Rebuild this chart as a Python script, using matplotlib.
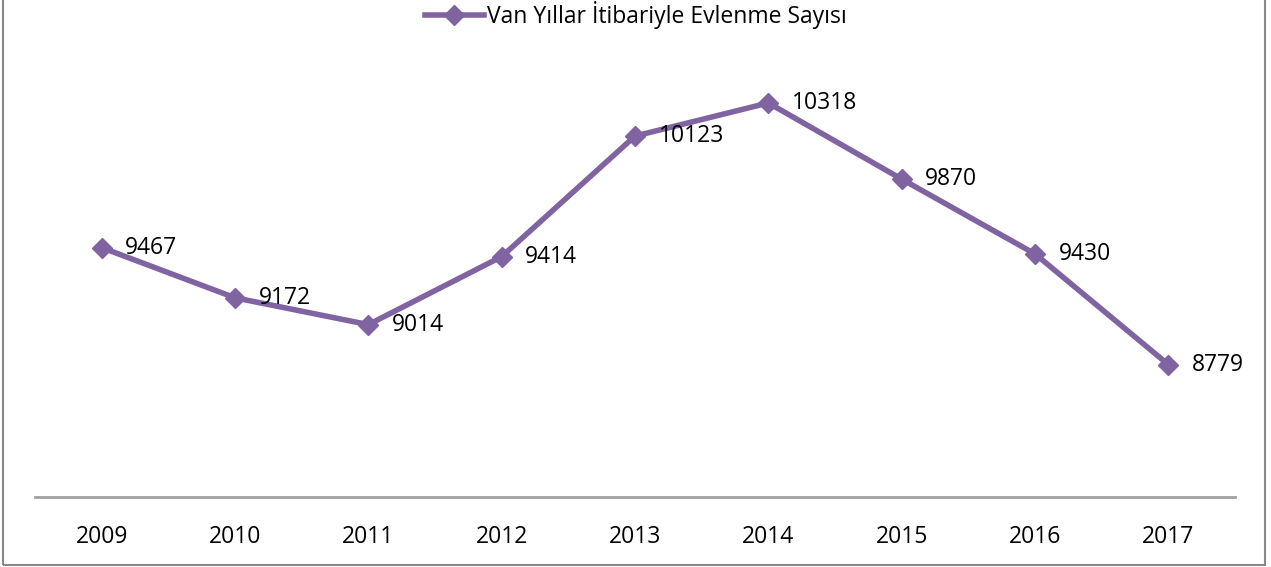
import matplotlib.pyplot as plt
from matplotlib.patches import Rectangle

years = ["2009", "2010", "2011", "2012", "2013", "2014", "2015", "2016", "2017"]
counts = [9467, 9172, 9014, 9414, 10123, 10318, 9870, 9430, 8779]
series_name = "Van Yıllar İtibariyle Evlenme Sayısı"

plt.rcParams['font.family'] = ['Open Sans', 'DejaVu Sans']

fig = plt.figure(figsize=(12.71, 5.67), dpi=100)
ax = fig.add_axes([35 / 1271, 1 - 497 / 567, 1200 / 1271, (497 - 72) / 567])

color = "#8064A2"
x = list(range(len(years)))
line, = ax.plot(x, counts, color=color, lw=4, marker="D", ms=10,
                label=series_name, solid_joinstyle="round")

for xi, v in zip(x, counts):
    ax.annotate(str(v), (xi, v), xytext=(17, 0), textcoords="offset points",
                ha="left", va="center", fontsize=16.5, color="black")

ax.set_xlim(-0.5, len(years) - 0.5)
ax.set_ylim(8000, 10500)
ax.set_xticks(x)
ax.set_xticklabels(years, fontsize=16.5)
ax.tick_params(axis="x", length=0, pad=20)
ax.set_yticks([])
for s in ["top", "right", "left"]:
    ax.spines[s].set_visible(False)
ax.spines["bottom"].set_color("#a0a0a0")
ax.spines["bottom"].set_linewidth(2)

fig.legend(handles=[line], loc="upper center", bbox_to_anchor=(0.5, 1.015),
           frameon=False, fontsize=16.5, handlelength=2.6, handletextpad=0.1,
           borderaxespad=0.0)

fig.patches.append(Rectangle((3 / 1271, 2 / 567), 1262 / 1271, 600 / 567,
                             transform=fig.transFigure, fill=False,
                             edgecolor="#888888", lw=1.5))

fig.savefig("out.png", dpi=100)
